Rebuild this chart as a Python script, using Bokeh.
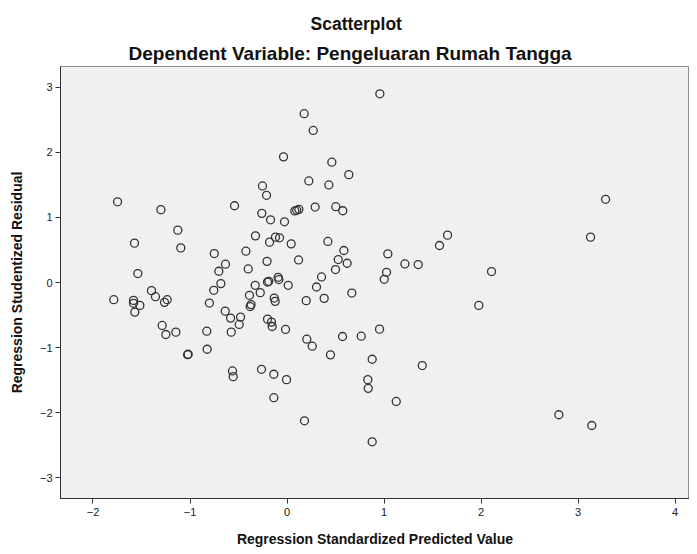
from bokeh.plotting import figure
from bokeh.models import Title, Range1d, FixedTicker
from bokeh.embed import file_html
from bokeh.resources import INLINE

# Regression Standardized Predicted Value (x) and Studentized Residual (y)
pred = [
    -1.747, -1.30, -1.126, -0.541, -0.253, -0.211, -0.26, -0.17, 0.957, 0.177,
    0.27, -0.036, 0.462, 0.637, 0.225, 0.431, -0.026, 0.08, 0.10, 0.122,
    0.29, 0.503, 0.575, 3.284, -1.572, -1.095, -0.325, -0.18, -0.119, -0.077,
    -0.75, -0.424, -0.634, -0.703, -0.40, -0.206, -1.538, -0.682, -0.201, -0.188,
    -0.328, -0.276, -0.755, -1.397, -1.356, -1.235, -1.263, -1.786, -1.582, -1.582,
    -1.517, -1.569, -0.80, -0.387, -0.37, -0.38, -0.132, -0.122, -0.637, -0.582,
    -0.479, -0.493, -0.201, -0.16, -0.153, -1.287, -1.249, -1.146, -0.827, -0.575,
    -0.823, -1.019, -1.025, 0.043, 0.421, 0.586, 1.039, 1.655, 1.572, 1.215,
    1.352, 1.026, 1.002, 0.119, 0.528, 0.62, 0.5, 0.356, 0.304, 0.383,
    0.668, 0.198, -0.091, -0.084, 0.012, -0.015, 0.204, 0.26, 0.572, 0.765,
    0.954, 0.448, 0.878, 3.129, 2.108, 1.977, -0.562, -0.555, -0.263, -0.136,
    -0.136, -0.005, 1.394, 0.833, 0.837, 1.126, 0.18, 0.878, 2.802, 3.142,
]
resid = [
    1.24, 1.12, 0.805, 1.18, 1.484, 1.34, 1.063, 0.964, 2.90, 2.595,
    2.337, 1.931, 1.849, 1.658, 1.561, 1.499, 0.933, 1.10, 1.11, 1.124,
    1.16, 1.165, 1.103, 1.279, 0.605, 0.532, 0.717, 0.62, 0.697, 0.687,
    0.445, 0.481, 0.281, 0.173, 0.208, 0.325, 0.137, -0.017, 0.008, 0.018,
    -0.043, -0.156, -0.12, -0.125, -0.218, -0.264, -0.305, -0.264, -0.275, -0.32,
    -0.352, -0.455, -0.316, -0.197, -0.34, -0.37, -0.239, -0.29, -0.44, -0.547,
    -0.532, -0.645, -0.563, -0.609, -0.676, -0.66, -0.799, -0.763, -0.748, -0.763,
    -1.026, -1.103, -1.11, 0.594, 0.631, 0.492, 0.44, 0.728, 0.569, 0.285,
    0.276, 0.157, 0.049, 0.347, 0.353, 0.296, 0.199, 0.085, -0.069, -0.244,
    -0.162, -0.279, 0.08, 0.045, -0.043, -0.722, -0.871, -0.979, -0.83, -0.825,
    -0.717, -1.112, -1.18, 0.697, 0.168, -0.352, -1.359, -1.447, -1.334, -1.41,
    -1.771, -1.493, -1.277, -1.493, -1.627, -1.828, -2.126, -2.449, -2.033, -2.198,
]

x_ticks = [-2, -1, 0, 1, 2, 3, 4]
y_ticks = [-3, -2, -1, 0, 1, 2, 3]

title_text = "Scatterplot"
subtitle_text = "Dependent Variable: Pengeluaran Rumah Tangga"
x_label = "Regression Standardized Predicted Value"
y_label = "Regression Studentized Residual"

FONT = "Liberation Sans"

p = figure(width=689, height=549, output_backend="svg", toolbar_location=None,
           x_range=Range1d(-2.335, 4.149), y_range=Range1d(-3.32, 3.32),
           min_border_left=60, min_border_right=0, min_border_top=66, min_border_bottom=10)

p.background_fill_color = "#F0F0F0"
p.border_fill_color = "white"
p.outline_line_color = "#8c8c8c"
p.outline_line_width = 1
p.xgrid.visible = False
p.ygrid.visible = False

sub = Title(text=subtitle_text, align="left", text_font=FONT, text_font_size="19px",
            text_font_style="bold", text_color="#111111", offset=68, standoff=5)
main = Title(text=title_text, align="left", text_font=FONT, text_font_size="17.5px",
             text_font_style="bold", text_color="#111111", offset=250, standoff=10)
p.add_layout(sub, "above")
p.add_layout(main, "above")

for ax in (p.xaxis[0], p.yaxis[0]):
    ax.axis_line_color = "#333333"
    ax.axis_line_width = 1
    ax.major_tick_line_color = "#333333"
    ax.major_tick_in = 0
    ax.major_tick_out = 5
    ax.minor_tick_line_color = None
    ax.major_label_text_font = FONT
    ax.major_label_text_font_size = "11px"
    ax.major_label_text_color = "#222222"
    ax.axis_label_text_font = FONT
    ax.axis_label_text_font_size = "14px"
    ax.axis_label_text_font_style = "bold"
    ax.axis_label_text_color = "#111111"

p.xaxis[0].ticker = FixedTicker(ticks=x_ticks)
p.yaxis[0].ticker = FixedTicker(ticks=y_ticks)
p.xaxis[0].axis_label = x_label
p.yaxis[0].axis_label = y_label
p.xaxis[0].axis_label_standoff = 12
p.yaxis[0].axis_label_standoff = 12
p.yaxis[0].major_label_standoff = 3
p.xaxis[0].major_label_standoff = 4

p.scatter(pred, resid, marker="circle", size=8, fill_color=None,
          line_color="#333333", line_width=1.3)

open("out.html", "w").write(file_html(p, INLINE))
